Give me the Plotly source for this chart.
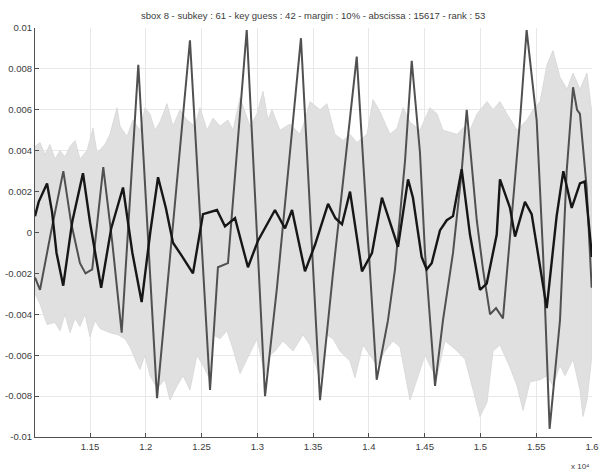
import plotly.graph_objects as go

# ---- data ----
band_upper_x = [11007, 11052, 11097, 11141, 11186, 11231, 11276, 11321, 11366, 11410, 11473, 11527, 11563,
                11634, 11679, 11742, 11769, 11832, 11885, 11948, 11993, 12038, 12083, 12127, 12190, 12244,
                12307, 12370, 12441, 12486, 12549, 12603, 12665, 12737, 12782, 12845, 12934, 12997, 13051,
                13096, 13131, 13203, 13293, 13382, 13427, 13472, 13562, 13624, 13696, 13768, 13831, 13893,
                13983, 14037, 14100, 14189, 14252, 14306, 14369, 14458, 14548, 14611, 14664, 14727, 14790,
                14862, 14906, 14969, 15059, 15113, 15175, 15238, 15328, 15417, 15471, 15534, 15597, 15650,
                15713, 15776, 15830, 15892, 15955, 16000]
band_upper_y = [0.0042, 0.0044, 0.0038, 0.0043, 0.0036, 0.0040, 0.0037, 0.0042, 0.0045, 0.0036, 0.0040, 0.0051, 0.0039,
                0.0043, 0.0048, 0.0061, 0.0052, 0.0047, 0.0055, 0.0050, 0.0061, 0.0058, 0.0050, 0.0054, 0.0063, 0.0052,
                0.0060, 0.0055, 0.0052, 0.0061, 0.0050, 0.0056, 0.0052, 0.0055, 0.0050, 0.0066, 0.0052, 0.0058, 0.0069,
                0.0055, 0.0060, 0.0050, 0.0053, 0.0048, 0.0055, 0.0064, 0.0060, 0.0063, 0.0048, 0.0045, 0.0048, 0.0044,
                0.0048, 0.0065, 0.0059, 0.0048, 0.0051, 0.0061, 0.0054, 0.0050, 0.0061, 0.0058, 0.0050, 0.0049, 0.0048,
                0.0052, 0.0050, 0.0058, 0.0064, 0.0060, 0.0064, 0.0058, 0.0050, 0.0055, 0.0060, 0.0064, 0.0082, 0.0089,
                0.0076, 0.0070, 0.0078, 0.0070, 0.0078, 0.0058]

band_lower_x = [11007, 11052, 11115, 11186, 11231, 11276, 11321, 11366, 11410, 11455, 11500, 11545, 11590,
                11679, 11751, 11814, 11859, 11921, 11948, 11993, 12038, 12101, 12172, 12217, 12280, 12334,
                12396, 12459, 12513, 12576, 12603, 12665, 12728, 12782, 12845, 12907, 12997, 13069, 13114,
                13158, 13230, 13320, 13409, 13472, 13562, 13624, 13678, 13741, 13831, 13875, 13947, 14010,
                14073, 14144, 14216, 14279, 14369, 14431, 14503, 14575, 14611, 14682, 14772, 14862, 14933,
                14996, 15059, 15113, 15175, 15265, 15328, 15382, 15444, 15534, 15597, 15650, 15713, 15758,
                15830, 15892, 15919, 15955, 16000]
band_lower_y = [-0.0030, -0.0035, -0.0045, -0.0044, -0.0048, -0.0040, -0.0049, -0.0042, -0.0046, -0.0040, -0.0051,
                -0.0043, -0.0047, -0.0049, -0.0050, -0.0052, -0.0056, -0.0064, -0.0067, -0.0060, -0.0070, -0.0076,
                -0.0072, -0.0082, -0.0075, -0.0070, -0.0077, -0.0060, -0.0065, -0.0072, -0.0050, -0.0052, -0.0048,
                -0.0057, -0.0069, -0.0062, -0.0052, -0.0070, -0.0060, -0.0058, -0.0053, -0.0058, -0.0050, -0.0055,
                -0.0072, -0.0050, -0.0052, -0.0058, -0.0063, -0.0071, -0.0055, -0.0060, -0.0065, -0.0058, -0.0053,
                -0.0056, -0.0082, -0.0072, -0.0060, -0.0068, -0.0070, -0.0053, -0.0057, -0.0062, -0.0077, -0.0090,
                -0.0083, -0.0058, -0.0055, -0.0066, -0.0075, -0.0087, -0.0073, -0.0072, -0.0070, -0.0075, -0.0065,
                -0.0070, -0.0062, -0.0077, -0.0090, -0.0082, -0.0060]

key_x = [11007, 11052, 11150, 11261, 11330, 11410, 11460, 11520, 11619, 11700, 11784, 11933, 12101, 12396,
         12576, 12647, 12737, 12905, 13069, 13176, 13391, 13562, 13678, 13891, 14070, 14171, 14234, 14324,
         14384, 14458, 14503, 14593, 14664, 14754, 14832, 14877, 14967, 15023, 15086, 15140, 15202, 15265,
         15355, 15414, 15504, 15561, 15620, 15713, 15773, 15830, 15866, 15892, 15952, 15997]
key_y = [-0.0022, -0.0028, 0.0000, 0.0030, 0.0005, -0.0015, -0.0020, -0.0018, 0.0032, -0.0005, -0.0049,
         0.0082, -0.0081, 0.0094, -0.0077, -0.0017, -0.0015, 0.0099, -0.0080, -0.0027, 0.0095, -0.0082,
         -0.0020, 0.0086, -0.0072, -0.0043, -0.0018, 0.0035, 0.0084, 0.0039, -0.0010, -0.0075, -0.0043,
         -0.0010, 0.0030, 0.0060, 0.0006, -0.0018, -0.0040, -0.0037, -0.0042, -0.0002, 0.0055, 0.0099,
         0.0055, -0.0010, -0.0096, -0.0043, 0.0030, 0.0071, 0.0060, 0.0058, 0.0022, -0.0027]

guess_x = [11007, 11040, 11115, 11160, 11200, 11260, 11340, 11437, 11500, 11600, 11690, 11796, 11880, 11963,
           12040, 12110, 12180, 12244, 12330, 12423, 12513, 12638, 12710, 12800, 12916, 13006, 13158, 13248,
           13311, 13427, 13517, 13634, 13700, 13759, 13831, 13938, 14028, 14117, 14261, 14351, 14395, 14473,
           14518, 14563, 14637, 14698, 14754, 14832, 14906, 14996, 15056, 15146, 15175, 15265, 15310, 15399,
           15459, 15594, 15683, 15743, 15818, 15892, 15935, 15975, 16000]
guess_y = [0.0008, 0.0015, 0.0024, 0.0010, -0.0010, -0.0026, 0.0005, 0.0029, 0.0005, -0.0027, 0.0002,
           0.0022, -0.0010, -0.0034, 0.0000, 0.0027, 0.0012, -0.0005, -0.0012, -0.0020, 0.0009, 0.0011,
           0.0003, 0.0007, -0.0017, -0.0004, 0.0011, 0.0002, 0.0011, -0.0019, -0.0006, 0.0014, 0.0007,
           0.0004, 0.0020, -0.0019, -0.0010, 0.0017, -0.0007, 0.0026, 0.0017, -0.0012, -0.0018, -0.0015,
           0.0001, 0.0006, 0.0008, 0.0031, -0.0001, -0.0028, -0.0025, -0.0001, 0.0026, 0.0012, -0.0002,
           0.0015, 0.0009, -0.0037, 0.0008, 0.0030, 0.0012, 0.0024, 0.0025, 0.0000, -0.0012]

x_tick_vals = [11500, 12000, 12500, 13000, 13500, 14000, 14500, 15000, 15500, 16000]
x_tick_text = ["1.15", "1.2", "1.25", "1.3", "1.35", "1.4", "1.45", "1.5", "1.55", "1.6"]
y_tick_vals = [0.01, 0.008, 0.006, 0.004, 0.002, 0, -0.002, -0.004, -0.006, -0.008, -0.01]
y_tick_text = ["0.01", "0.008", "0.006", "0.004", "0.002", "0", "-0.002", "-0.004", "-0.006", "-0.008", "-0.01"]

title_text = "sbox 8 - subkey : 61 - key guess : 42 - margin : 10% - abscissa : 15617 - rank : 53"
exponent_text = "x 10\u2074"

# ---- figure ----
fig = go.Figure()
fig.add_trace(go.Scatter(
    x=band_upper_x + band_lower_x[::-1],
    y=band_upper_y + band_lower_y[::-1],
    fill="toself", fillcolor="rgb(224,224,224)",
    line=dict(color="rgb(214,214,214)", width=0.8),
    mode="lines", hoverinfo="skip", showlegend=False))
fig.add_trace(go.Scatter(x=key_x, y=key_y, mode="lines",
                         line=dict(color="rgb(80,80,80)", width=2),
                         showlegend=False))
fig.add_trace(go.Scatter(x=guess_x, y=guess_y, mode="lines",
                         line=dict(color="rgb(22,22,22)", width=2.4),
                         showlegend=False))

font_family = "Liberation Sans, Arial, sans-serif"
fig.update_layout(
    width=599, height=473,
    margin=dict(l=35, r=7, t=28, b=36),
    paper_bgcolor="white", plot_bgcolor="white",
    font=dict(family=font_family, size=10, color="rgb(60,60,60)"),
    title=dict(text=title_text, x=0.5227, xanchor="center", y=0.966, yanchor="middle",
               font=dict(size=9.5, color="rgb(60,60,60)")),
    showlegend=False,
)
fig.update_xaxes(range=[11007, 16000], tickvals=x_tick_vals, ticktext=x_tick_text,
                 showgrid=True, gridcolor="rgb(232,232,232)", gridwidth=1,
                 showline=True, linecolor="rgb(80,80,80)", linewidth=1.2,
                 ticks="inside", ticklen=4, tickcolor="rgb(80,80,80)",
                 zeroline=False, tickfont=dict(size=9.5), automargin=False)
fig.update_yaxes(range=[-0.01, 0.01], tickvals=y_tick_vals, ticktext=y_tick_text,
                 showgrid=True, gridcolor="rgb(232,232,232)", gridwidth=1,
                 showline=True, linecolor="rgb(80,80,80)", linewidth=1.2,
                 ticks="inside", ticklen=4, tickcolor="rgb(80,80,80)",
                 zeroline=False, tickfont=dict(size=9.5), automargin=False)
fig.add_annotation(text=exponent_text, xref="paper", yref="paper", x=1.0, y=-0.071,
                   xanchor="right", yanchor="middle", showarrow=False,
                   font=dict(size=8, color="rgb(60,60,60)"))

fig.write_html("out.html", config={"displayModeBar": False},
               post_script="document.body.style.margin='0';")
